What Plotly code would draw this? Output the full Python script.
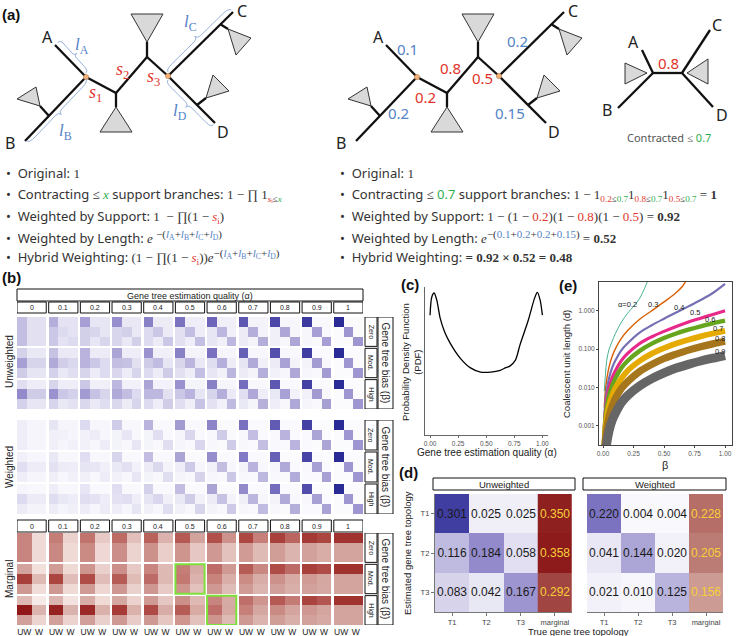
import plotly.graph_objects as go

W, H = 737, 636

# ---------------- data ----------------
ALPHAS = ["0", "0.1", "0.2", "0.3", "0.4", "0.5", "0.6", "0.7", "0.8", "0.9", "1"]
BIAS = ["Zero", "Mod.", "High"]

# panel (b): rows = estimated T1..T3, columns = (alpha, true T1..T3)
UNW_ZERO = [
    [.167, .083, .083, .20, .075, .075, .233, .067, .067, .267, .058, .058, .30, .05, .05, .333, .042, .042, .367, .033, .033, .40, .025, .025, .433, .017, .017, .467, .008, .008, .50, 0, 0],
    [.167, .083, .083, .15, .10, .075, .133, .117, .067, .117, .133, .058, .10, .15, .05, .083, .167, .042, .067, .183, .033, .05, .20, .025, .033, .217, .017, .017, .233, .008, 0, .25, 0],
    [.167, .083, .083, .15, .075, .10, .133, .067, .117, .117, .058, .133, .10, .05, .15, .083, .042, .167, .067, .033, .183, .05, .025, .20, .033, .017, .217, .017, .008, .233, 0, 0, .25],
]
UNW_MOD = [
    [.13, .06, .06, .16, .055, .055, .19, .05, .05, .22, .045, .045, .26, .035, .035, .301, .025, .025, .34, .02, .02, .38, .015, .015, .42, .01, .01, .46, .005, .005, .50, 0, 0],
    [.23, .12, .12, .21, .135, .11, .19, .15, .10, .165, .16, .085, .14, .172, .07, .116, .184, .058, .095, .198, .045, .07, .21, .035, .05, .225, .025, .025, .238, .012, 0, .25, 0],
    [.14, .07, .07, .13, .06, .09, .12, .05, .10, .115, .045, .12, .10, .043, .14, .083, .042, .167, .065, .032, .185, .05, .025, .20, .03, .015, .215, .015, .007, .238, 0, 0, .25],
]
UNW_HIGH = [
    [.09, .045, .045, .12, .04, .04, .15, .035, .035, .18, .03, .03, .22, .028, .028, .26, .022, .022, .30, .018, .018, .35, .013, .013, .40, .008, .008, .45, .004, .004, .50, 0, 0],
    [.28, .14, .14, .26, .15, .13, .24, .16, .12, .21, .17, .10, .18, .18, .085, .15, .19, .07, .12, .20, .055, .09, .215, .04, .06, .228, .028, .03, .24, .014, 0, .25, 0],
    [.13, .065, .065, .12, .06, .08, .11, .055, .095, .11, .05, .12, .10, .042, .137, .09, .038, .158, .08, .032, .177, .06, .022, .197, .04, .014, .214, .02, .006, .232, 0, 0, .25],
]
W_ZERO = [
    [.04, .02, .02, .07, .018, .018, .10, .015, .015, .14, .012, .012, .19, .008, .008, .24, .006, .006, .29, .004, .004, .34, .003, .003, .39, .002, .002, .45, .001, .001, .50, 0, 0],
    [.04, .02, .02, .035, .03, .018, .03, .045, .015, .026, .065, .012, .022, .09, .008, .018, .115, .006, .014, .14, .004, .01, .165, .003, .006, .19, .002, .003, .22, .001, 0, .25, 0],
    [.04, .02, .02, .035, .018, .03, .03, .015, .045, .026, .012, .065, .022, .008, .09, .018, .006, .115, .014, .004, .14, .01, .003, .165, .006, .002, .19, .003, .001, .22, 0, 0, .25],
]
W_MOD = [
    [.035, .015, .015, .06, .013, .013, .09, .011, .011, .12, .009, .009, .17, .006, .006, .22, .004, .004, .27, .003, .003, .32, .002, .002, .38, .001, .001, .44, 0, 0, .50, 0, 0],
    [.09, .045, .045, .08, .05, .04, .07, .065, .035, .06, .085, .03, .05, .11, .025, .041, .144, .02, .032, .17, .015, .024, .19, .01, .015, .21, .006, .007, .23, .003, 0, .25, 0],
    [.04, .018, .018, .037, .016, .03, .034, .014, .045, .03, .013, .065, .026, .011, .095, .021, .01, .125, .016, .008, .15, .011, .006, .18, .007, .004, .205, .003, .002, .23, 0, 0, .25],
]
W_HIGH = [
    [.02, .01, .01, .04, .01, .01, .065, .009, .009, .09, .008, .008, .13, .006, .006, .17, .005, .005, .22, .004, .004, .28, .003, .003, .35, .002, .002, .42, .001, .001, .50, 0, 0],
    [.10, .05, .05, .095, .06, .047, .09, .075, .045, .08, .09, .04, .07, .115, .035, .06, .14, .03, .05, .16, .024, .038, .185, .017, .025, .21, .01, .012, .23, .005, 0, .25, 0],
    [.05, .025, .025, .047, .022, .035, .044, .02, .05, .04, .018, .07, .035, .015, .095, .03, .012, .12, .024, .01, .145, .017, .007, .175, .01, .004, .20, .005, .002, .225, 0, 0, .25],
]
# marginal: rows = estimated T1..T3, one value per alpha
MARG_UW_ZERO = [[.333, .35, .367, .383, .40, .417, .433, .45, .467, .483, .5],
                [.333, .325, .317, .308, .30, .292, .283, .275, .267, .258, .25],
                [.333, .325, .317, .308, .30, .292, .283, .275, .267, .258, .25]]
MARG_W_ZERO = [[.08, .106, .13, .164, .206, .252, .298, .346, .394, .452, .5],
               [.08, .083, .09, .103, .12, .139, .158, .178, .198, .224, .25],
               [.08, .083, .09, .103, .12, .139, .158, .178, .198, .224, .25]]
MARG_UW_MOD = [[.25, .27, .29, .31, .33, .35, .38, .41, .44, .47, .5],
               [.47, .455, .44, .41, .382, .358, .338, .315, .30, .275, .25],
               [.28, .28, .275, .285, .285, .292, .282, .275, .26, .257, .25]]
MARG_W_MOD = [[.065, .086, .112, .138, .182, .228, .276, .324, .382, .44, .5],
              [.18, .17, .17, .175, .185, .205, .217, .224, .231, .24, .25],
              [.076, .083, .093, .108, .132, .156, .174, .197, .216, .235, .25]]
MARG_UW_HIGH = [[.18, .20, .22, .24, .276, .304, .336, .376, .416, .458, .5],
                [.56, .54, .52, .48, .445, .41, .375, .345, .316, .284, .25],
                [.26, .26, .26, .28, .279, .286, .289, .279, .268, .258, .25]]
MARG_W_HIGH = [[.04, .06, .083, .106, .142, .18, .228, .286, .354, .422, .5],
               [.20, .202, .21, .21, .22, .23, .234, .24, .245, .247, .25],
               [.10, .104, .114, .128, .145, .162, .179, .199, .214, .232, .25]]

# panel (c)
PDF_X = [0, 0.015, 0.036, 0.06, 0.09, 0.13, 0.18, 0.27, 0.36, 0.45, 0.54, 0.625, 0.67, 0.71, 0.76, 0.80, 0.875, 0.93, 0.955, 0.98, 1.0]
PDF_Y = [2.0, 2.3, 2.37, 2.25, 1.95, 1.72, 1.53, 1.28, 1.12, 1.05, 1.05, 1.08, 1.12, 1.15, 1.25, 1.5, 1.92, 2.28, 2.38, 2.25, 2.0]

# panel (e)
BETA = [0.01, 0.02, 0.03, 0.05, 0.075, 0.1, 0.15, 0.2, 0.3, 0.4, 0.5, 0.6, 0.7, 0.8, 0.9, 1.0]
BETA_03 = [0.01, 0.02, 0.03, 0.05, 0.075, 0.1, 0.15, 0.2, 0.3, 0.4, 0.5, 0.6, 0.65, 0.68]
BETA_02 = [0.01, 0.02, 0.03, 0.05, 0.075, 0.1, 0.15, 0.2, 0.25, 0.3, 0.34, 0.37]
D_02 = [0.008, 0.022, 0.05, 0.1, 0.16, 0.25, 0.5, 0.85, 1.3, 2.1, 3.8, 6.5]
D_03 = [0.003, 0.0085, 0.016, 0.035, 0.065, 0.1, 0.19, 0.3, 0.6, 1.0, 1.7, 3.0, 4.3, 6.0]
D_04 = [0.0016, 0.0045, 0.0083, 0.018, 0.033, 0.05, 0.093, 0.14, 0.27, 0.42, 0.62, 0.9, 1.3, 1.9, 2.9, 5.0]
D_05 = [0.0009, 0.0025, 0.0046, 0.0098, 0.018, 0.027, 0.05, 0.076, 0.14, 0.21, 0.29, 0.39, 0.51, 0.64, 0.8, 1.0]
D_06 = [0.00055, 0.0016, 0.0029, 0.0062, 0.011, 0.017, 0.032, 0.049, 0.090, 0.139, 0.195, 0.256, 0.322, 0.394, 0.47, 0.55]
D_07 = [0.0003, 0.00085, 0.0016, 0.0034, 0.0062, 0.0095, 0.017, 0.027, 0.049, 0.076, 0.106, 0.14, 0.176, 0.215, 0.256, 0.30]
D_08 = [0.00016, 0.00045, 0.00083, 0.0018, 0.0033, 0.0051, 0.0093, 0.014, 0.026, 0.040, 0.057, 0.074, 0.094, 0.115, 0.137, 0.16]
D_09 = [0.000068, 0.00019, 0.00035, 0.00076, 0.0014, 0.0021, 0.0040, 0.0061, 0.011, 0.017, 0.024, 0.032, 0.040, 0.049, 0.058, 0.068]

# panel (d)
TOPO = ["T1", "T2", "T3"]
D_UNW = [[.301, .025, .025], [.116, .184, .058], [.083, .042, .167]]
D_UNW_MARG = [.350, .358, .292]
D_W = [[.220, .004, .004], [.041, .144, .020], [.021, .010, .125]]
D_W_MARG = [.228, .205, .156]

# ---------------- styles ----------------
RED, BLUE, GREEN, TXT = "#e0342c", "#5583c6", "#2fae4e", "#333333"
SANS = "Noto Sans"
GG = "Liberation Sans"
SER = "Liberation Serif"
BLUES = [[0, "#fbfbfe"], [0.25, "#d6d3eb"], [0.5, "#9e96d0"], [0.75, "#6a62b8"], [1, "#2b2b96"]]
REDS_B = [[0, "#fdf9f8"], [0.14, "#f0dbd8"], [0.45, "#d3a39d"], [0.6, "#c8847e"], [0.8, "#ad4843"], [1, "#901818"]]
REDS_D = [[0, "#fdf8f7"], [0.43, "#cc9c94"], [1, "#8c1a1a"]]


def xd(a, b):
    return [a / W, b / W]


def yd(t, b):
    return [1 - b / H, 1 - t / H]


fig = go.Figure()
shapes, anns = [], []


def ann(x, y, text, size=11, color=TXT, family=SANS, xa="center", ya="middle", angle=0,
        xref="x8", yref="y8"):
    anns.append(dict(x=x, y=y, text=text, xref=xref, yref=yref, showarrow=False,
                     font=dict(size=size, color=color, family=family),
                     xanchor=xa, yanchor=ya, textangle=angle))


def box(x0, y0, x1, y1, xref="x8", yref="y8", width=1):
    shapes.append(dict(type="rect", xref=xref, yref=yref, x0=x0, y0=y0, x1=x1, y1=y1,
                       line=dict(color="#111", width=width), fillcolor="white", layer="above"))


# ---------------- panel (b) ----------------
XB = []
for i in range(11):
    XB += [i * 3.25, i * 3.25 + 1, i * 3.25 + 2, i * 3.25 + 3]
XM = []
for i in range(11):
    XM += [i * 2.17, i * 2.17 + 1, i * 2.17 + 2]
YB = []
for j in range(3):
    YB += [j * 3.2, j * 3.2 + 1, j * 3.2 + 2, j * 3.2 + 3]


def block_z(per_bias):
    z = []
    for j, rows in enumerate(per_bias):
        if j > 0:
            z.append([None] * 43)
        for r in rows:
            line = []
            for i in range(11):
                line += r[i * 3:i * 3 + 3]
                if i < 10:
                    line.append(None)
            z.append(line)
    return z


def marg_z(per_bias):
    z = []
    for j, (uw, w) in enumerate(per_bias):
        if j > 0:
            z.append([None] * 32)
        for r in range(3):
            line = []
            for i in range(11):
                line += [uw[r][i], w[r][i]]
                if i < 10:
                    line.append(None)
            z.append(line)
    return z


fig.add_trace(go.Heatmap(x=XB, y=YB, z=block_z([UNW_ZERO, UNW_MOD, UNW_HIGH]), colorscale=BLUES,
                         zmin=0, zmax=0.5, showscale=False, hoverinfo="skip", xaxis="x", yaxis="y"))
fig.add_trace(go.Heatmap(x=XB, y=YB, z=block_z([W_ZERO, W_MOD, W_HIGH]), colorscale=BLUES,
                         zmin=0, zmax=0.5, showscale=False, hoverinfo="skip", xaxis="x2", yaxis="y2"))
fig.add_trace(go.Heatmap(x=XM, y=YB, z=marg_z([(MARG_UW_ZERO, MARG_W_ZERO), (MARG_UW_MOD, MARG_W_MOD),
                                               (MARG_UW_HIGH, MARG_W_HIGH)]),
                         colorscale=REDS_B, zmin=0, zmax=0.56, showscale=False, hoverinfo="skip",
                         xaxis="x3", yaxis="y3"))

# strips for (b)
box(17, 289, 363, 301)
ann(190, 295.5, "Gene tree estimation quality (α)", size=9, family=GG, color="#222")
for i, a in enumerate(ALPHAS):
    box(i * 3.25, 302, i * 3.25 + 3, 313, xref="x")
    ann(i * 3.25 + 1.5, 307.5, a, size=7, family=GG, color="#222", xref="x")
    box(i * 2.17, 520, i * 2.17 + 2, 532, xref="x3")
    ann(i * 2.17 + 1, 526, a, size=7, family=GG, color="#222", xref="x3")
for ax in ["y", "y2", "y3"]:
    for j, b in enumerate(BIAS):
        box(365, j * 3.2, 377, j * 3.2 + 3, yref=ax)
        ann(371, j * 3.2 + 1.5, b, size=7, family=GG, color="#222", angle=90, yref=ax)
    box(378, 0, 393, 9.4, yref=ax)
    ann(385.5, 4.7, "Gene tree bias (β)", size=10, family=GG, color="#222", angle=90, yref=ax)
ann(9, 362, "Unweighted", size=10, family=GG, color="#222", angle=-90)
ann(9, 467, "Weighted", size=10, family=GG, color="#222", angle=-90)
ann(9, 579, "Marginal", size=10, family=GG, color="#222", angle=-90)
for i, j in [(5, 1), (6, 2)]:
    shapes.append(dict(type="rect", xref="x3", yref="y3", x0=i * 2.17, x1=i * 2.17 + 2,
                       y0=j * 3.2, y1=j * 3.2 + 3, line=dict(color="#7ee03a", width=2), layer="above"))

# ---------------- panel (c) ----------------
fig.add_trace(go.Scatter(x=PDF_X, y=PDF_Y, mode="lines", line=dict(color="black", width=1.3, shape="spline", smoothing=0.8),
                         xaxis="x4", yaxis="y4", hoverinfo="skip"))
ann(487, 452, "Gene tree estimation quality (α)", size=10, family=GG, color="#222")
ann(411, 362, "Probability Density Function<br>(PDF)", size=9.5, family=GG, color="#222", angle=-90)

# ---------------- panel (e) ----------------
E_CURVES = [("0.2", BETA_02, D_02, "#1b9e77", 0.8), ("0.3", BETA_03, D_03, "#d95f02", 1.4),
            ("0.4", BETA, D_04, "#7570b3", 2.2), ("0.5", BETA, D_05, "#e7298a", 3.2),
            ("0.6", BETA, D_06, "#66a61e", 4.4), ("0.7", BETA, D_07, "#e6ab02", 5.8),
            ("0.8", BETA, D_08, "#a6761d", 7.2), ("0.9", BETA, D_09, "#666666", 9.0)]
for name, bx, dy, col_, lw in E_CURVES:
    fig.add_trace(go.Scatter(x=bx, y=dy, mode="lines", line=dict(color=col_, width=lw, shape="spline"),
                             xaxis="x5", yaxis="y5", hoverinfo="skip"))
E_LAB = [("α=0.2", 627, 304), ("0.3", 653, 304), ("0.4", 679, 307), ("0.5", 695, 312),
         ("0.6", 710, 319), ("0.7", 718, 328), ("0.8", 720, 338), ("0.9", 720, 351)]
for t, x, y in E_LAB:
    ann(x, y, t, size=7.5, family=GG, color="#222")
ann(665, 465, "β", size=11, family=GG, color="#222")
ann(566, 364, "Coalescent unit length (d)", size=9.5, family=GG, color="#222", angle=-90)

# ---------------- panel (d) ----------------
for (mat, mg, xa, ya) in [(D_UNW, D_UNW_MARG, "x6", "y6"), (D_W, D_W_MARG, "x7", "y7")]:
    fig.add_trace(go.Heatmap(x=[0, 1, 2], y=[0, 1, 2], z=mat, colorscale=BLUES, zmin=0, zmax=0.33, showscale=False,
                             texttemplate="%{z:.3f}", textfont=dict(size=12, color="#1a1a1a", family=GG),
                             hoverinfo="skip", xaxis=xa, yaxis=ya))
    fig.add_trace(go.Heatmap(x=[2.5, 3.5], y=[0, 1, 2], z=[[v] for v in mg], colorscale=REDS_D, zmin=0, zmax=0.36,
                             showscale=False, texttemplate="%{z:.3f}",
                             textfont=dict(size=12, color="#f7d038", family=GG),
                             hoverinfo="skip", xaxis=xa, yaxis=ya))
box(433, 478, 575, 490)
ann(504, 484, "Unweighted", size=9.5, family=GG, color="#222")
box(583, 478, 726, 490)
ann(654.5, 484, "Weighted", size=9.5, family=GG, color="#222")
ann(578, 631, "True gene tree topology", size=9.5, family=GG, color="#222")
ann(407, 553, "Estimated gene tree topology", size=9.5, family=GG, color="#222", angle=-90)


# ---------------- panel (a): trees ----------------
def seg(p, q, w=2.3):
    shapes.append(dict(type="line", xref="x8", yref="y8", x0=p[0], y0=p[1], x1=q[0], y1=q[1],
                       line=dict(color="#111", width=w), layer="above"))


def tri(pts):
    path = "M " + " L ".join(f"{x},{y}" for x, y in pts) + " Z"
    shapes.append(dict(type="path", xref="x8", yref="y8", path=path, fillcolor="#d9d9d9",
                       line=dict(color="#333", width=1), layer="above"))


def dot(p, r=2.6):
    shapes.append(dict(type="circle", xref="x8", yref="y8", x0=p[0] - r, x1=p[0] + r, y0=p[1] - r, y1=p[1] + r,
                       fillcolor="#f2b27a", line=dict(color="#b97a45", width=0.6), layer="above"))


def brace(p0, p1, toward, off=3.5, tip=8.0):
    dxv, dyv = p1[0] - p0[0], p1[1] - p0[1]
    L = (dxv ** 2 + dyv ** 2) ** 0.5
    nx, ny = -dyv / L, dxv / L
    mx, my = (p0[0] + p1[0]) / 2, (p0[1] + p1[1]) / 2
    if (toward[0] - mx) * nx + (toward[1] - my) * ny < 0:
        nx, ny = -nx, -ny

    def pt(t, o):
        return f"{p0[0] + dxv * t + nx * o:.1f},{p0[1] + dyv * t + ny * o:.1f}"
    path = (f"M {pt(0, 1)} Q {pt(0, off + 1)} {pt(0.1, off + 1)} L {pt(0.45, off + 1)} Q {pt(0.5, off + 1)} {pt(0.5, tip)} "
            f"Q {pt(0.5, off + 1)} {pt(0.55, off + 1)} L {pt(0.9, off + 1)} Q {pt(1, off + 1)} {pt(1, 1)}")
    shapes.append(dict(type="path", xref="x8", yref="y8", path=path, line=dict(color="#8aa8d8", width=0.9),
                       layer="above"))


def big_tree(dx):
    S = lambda p: (p[0] + dx, p[1])
    for p, q in [((55, 45), (86, 77)), ((25, 141), (86, 77)), ((86, 77), (116, 93)), ((116, 93), (147, 57)),
                 ((116, 93), (116, 107)), ((147, 57), (147, 42)), ((147, 57), (168, 76)), ((168, 76), (233, 12)),
                 ((168, 76), (215, 123)), ((49, 116), (40, 106)), ((220, 24), (228, 29)), ((197, 105), (206, 98))]:
        seg(S(p), S(q))
    for t in [[(17, 99), (36, 87), (40, 106)], [(100, 132), (132, 132), (116, 107)], [(131, 14), (163, 14), (147, 42)],
              [(228, 29), (251, 38), (236, 55)], [(206, 98), (213, 75), (229, 91)]]:
        tri([S(p) for p in t])
    dot(S((86, 77)))
    dot(S((168, 76)))
    for t, p in [("A", (47, 37)), ("B", (10, 143)), ("C", (242, 11)), ("D", (223, 132))]:
        ann(p[0] + dx, p[1], t, size=16, color="#222")


big_tree(0)
big_tree(331)

brace((57, 43), (85, 74), (83, 45))
brace((26, 140), (85, 78), (65, 132))
brace((169, 73), (232, 11), (190, 23))
brace((169, 79), (214, 124), (180, 112))

for t, x, y in [("1", 95, 93), ("2", 122, 70), ("3", 153, 77)]:
    ann(x, y, f"<i>s</i><sub>{t}</sub>", size=18, color=RED, family=SER)
for t, x, y in [("A", 82, 46), ("B", 65, 132), ("C", 190, 23), ("D", 180, 112)]:
    ann(x, y, f"<i>l</i><sub>{t}</sub>", size=17, color=BLUE, family=SER)
for t, x, y, c in [("0.1", 407, 49, BLUE), ("0.2", 517, 41, BLUE), ("0.2", 398, 113, BLUE), ("0.15", 510, 113, BLUE),
                   ("0.8", 450, 68, RED), ("0.2", 425, 97, RED), ("0.5", 482, 78, RED)]:
    ann(x, y, t, size=15, color=c)

# contracted tree
for p, q in [((642, 50), (653, 73)), ((618, 108), (653, 73)), ((653, 73), (682, 73)), ((682, 73), (710, 30)),
             ((682, 73), (713, 107))]:
    seg(p, q)
tri([(625, 63), (625, 84), (647, 73)])
tri([(708, 59), (708, 84), (687, 73)])
for t, p in [("A", (633, 42)), ("B", (607, 110)), ("C", (717, 25)), ("D", (722, 115))]:
    ann(p[0], p[1], t, size=16, color="#222")
ann(668, 63, "0.8", size=15, color=RED)
ann(669, 137, f"Contracted ≤ <span style=\"color:{GREEN}\">0.7</span>", size=11, color="#555")


# ---------------- panel (a): formulas ----------------
def m(s):
    return f"<span style=\"font-family:{SER}\">{s}</span>"


def col(c, s):
    return f"<span style=\"color:{c}\">{s}</span>"


def big_sup(s):
    return f"<sup><span style=\"font-size:11px\">{s}</span></sup>"


si = col(RED, "<i>s</i><sub>i</sub>")
ls = "+".join(col(BLUE, f"<i>l</i><sub>{k}</sub>") for k in "ABCD")
LEFT = [
    "•  Original: " + m("1"),
    "•  Contracting ≤ " + m(col(GREEN, "<i>x</i>")) + " support branches: " + m("1 − ∏ 1<sub>" + col(RED, "<i>s</i>ᵢ") + "≤" + col(GREEN, "<i>x</i>") + "</sub>"),
    "•  Weighted by Support: " + m("1  − ∏(1 − " + si + ")"),
    "•  Weighted by Length: " + m("<i>e</i> " + big_sup("−(" + ls + ")")),
    "•  Hybrid Weighting: " + m("(1 − ∏(1 − " + si + "))<i>e</i>" + big_sup("−(" + ls + ")")),
]
sub = lambda v: "<sub>" + col(RED, v) + "≤" + col(GREEN, "0.7") + "</sub>"
RIGHT = [
    "•  Original: " + m("1"),
    "•  Contracting ≤ " + col(GREEN, "0.7") + " support branches: " + m("1 − 1" + sub("0.2") + "1" + sub("0.8") + "1" + sub("0.5") + " = <b>1</b>"),
    "•  Weighted by Support: " + m("1 − (1 − " + col(RED, "0.2") + ")(1 − " + col(RED, "0.8") + ")(1 − " + col(RED, "0.5") + ") = <b>0.92</b>"),
    "•  Weighted by Length: " + m("<i>e</i>" + big_sup("−(" + "+".join(col(BLUE, v) for v in ["0.1", "0.2", "0.2", "0.15"]) + ")") + " = <b>0.52</b>"),
    "•  Hybrid Weighting: " + m("<b>= 0.92 × 0.52 = 0.48</b>"),
]
for k, y in enumerate([173, 194, 216, 237, 257]):
    ann(4, y, LEFT[k], size=13, xa="left")
    ann(338, y, RIGHT[k], size=13, xa="left")

# panel letters
for t, x, y in [("(a)", 11, 14), ("(b)", 11, 277), ("(c)", 410, 284), ("(e)", 568, 285), ("(d)", 408, 472)]:
    ann(x, y, f"<b>{t}</b>", size=15, color="#111", family=GG)

# overlay axis dummy
fig.add_trace(go.Scatter(x=[None], y=[None], xaxis="x8", yaxis="y8", hoverinfo="skip"))

# ---------------- layout ----------------
hid = dict(visible=False, showgrid=False, zeroline=False, fixedrange=True)
tickf = dict(size=6.5, color="#555", family=GG)
dtick = dict(size=7.5, color="#444", family=GG)
fig.update_layout(
    width=W, height=H, margin=dict(l=0, r=0, t=0, b=0), showlegend=False,
    template="none", paper_bgcolor="white", plot_bgcolor="rgba(0,0,0,0)",
    xaxis=dict(domain=xd(17, 363), range=[0, 35.5], anchor="y", **hid),
    yaxis=dict(domain=yd(317, 409), range=[9.4, 0], anchor="x", **hid),
    xaxis2=dict(domain=xd(17, 363), range=[0, 35.5], anchor="y2", **hid),
    yaxis2=dict(domain=yd(420, 514), range=[9.4, 0], anchor="x2", **hid),
    xaxis3=dict(domain=xd(17, 363), range=[0, 23.7], anchor="y3", showgrid=False, zeroline=False, showline=False,
                tickvals=[i * 2.17 + d for i in range(11) for d in (0.5, 1.5)],
                ticktext=["UW", "W"] * 11, ticks="", tickfont=dict(size=8.5, color="#222", family=GG)),
    yaxis3=dict(domain=yd(533, 625), range=[9.4, 0], anchor="x3", **hid),
    xaxis4=dict(domain=xd(425, 548), range=[-0.045, 1.05], anchor="y4", showgrid=False, zeroline=False, showline=True,
                linecolor="#666", linewidth=1.3, ticks="outside", ticklen=2, tickcolor="#666",
                tickvals=[0, 0.25, 0.5, 0.75, 1], ticktext=["0.00", "0.25", "0.50", "0.75", "1.00"], tickfont=tickf),
    yaxis4=dict(domain=yd(287, 435), range=[0, 2.47], anchor="x4", showgrid=False, zeroline=False, showline=True,
                linecolor="#666", linewidth=1.3, showticklabels=False, ticks=""),
    xaxis5=dict(domain=xd(599, 732), range=[-0.033, 1.057], anchor="y5", showgrid=False, zeroline=False,
                showline=True, mirror=True, linecolor="#444", linewidth=1, ticks="outside", ticklen=2,
                tickcolor="#444", tickvals=[0, 0.25, 0.5, 0.75, 1],
                ticktext=["0.00", "0.25", "0.50", "0.75", "1.00"], tickfont=tickf),
    yaxis5=dict(domain=yd(282, 445), type="log", range=[-3.5, 0.75], anchor="x5", showgrid=False, zeroline=False,
                showline=True, mirror=True, linecolor="#444", linewidth=1, ticks="outside", ticklen=2,
                tickcolor="#444", tickvals=[0.001, 0.01, 0.1, 1], ticktext=["0.001", "0.010", "0.100", "1.000"],
                tickfont=tickf),
    xaxis6=dict(domain=xd(435, 572), range=[-0.5, 3.5], anchor="y6", tickvals=[0, 1, 2, 3],
                ticktext=TOPO + ["marginal"], showgrid=False, zeroline=False, showline=True, linecolor="#777",
                linewidth=1.3, ticks="outside", ticklen=3, tickcolor="#777", tickfont=dtick),
    yaxis6=dict(domain=yd(494, 612), range=[2.5, -0.5], anchor="x6", tickvals=[0, 1, 2], ticktext=TOPO,
                showgrid=False, zeroline=False, showline=True, linecolor="#777", linewidth=1.3,
                ticks="outside", ticklen=3, tickcolor="#777", tickfont=dtick),
    xaxis7=dict(domain=xd(587, 723), range=[-0.5, 3.5], anchor="y7", tickvals=[0, 1, 2, 3],
                ticktext=TOPO + ["marginal"], showgrid=False, zeroline=False, showline=True, linecolor="#777",
                linewidth=1.3, ticks="outside", ticklen=3, tickcolor="#777", tickfont=dtick),
    yaxis7=dict(domain=yd(494, 612), range=[2.5, -0.5], anchor="x7", showgrid=False, zeroline=False,
                showline=False, showticklabels=False, ticks=""),
    xaxis8=dict(domain=[0, 1], range=[0, W], anchor="y8", **hid),
    yaxis8=dict(domain=[0, 1], range=[H, 0], anchor="x8", **hid),
    shapes=shapes, annotations=anns,
)

fig.write_html("out.html", config={"displayModeBar": False}, post_script="document.body.style.margin='0px';")
